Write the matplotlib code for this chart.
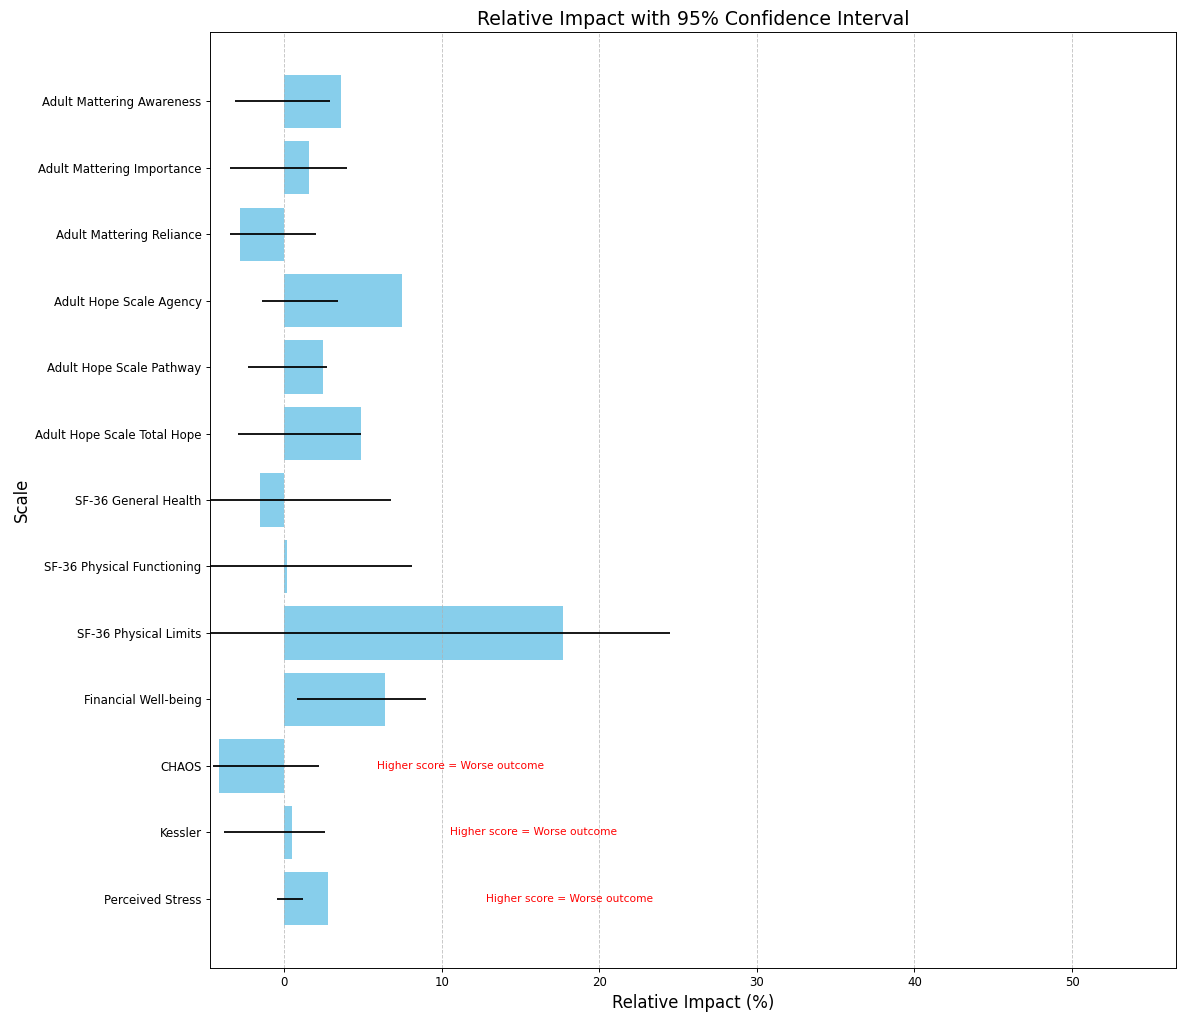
import matplotlib.pyplot as plt

# Scales, relative impact (%) and 95% CI bounds
scales = [
    'Adult Mattering Awareness', 'Adult Mattering Importance', 'Adult Mattering Reliance',
    'Adult Hope Scale Agency', 'Adult Hope Scale Pathway', 'Adult Hope Scale Total Hope',
    'SF-36 General Health', 'SF-36 Physical Functioning', 'SF-36 Physical Limits',
    'Financial Well-being', 'CHAOS', 'Kessler', 'Perceived Stress',
]
impact = [3.6, 1.6, -2.8, 7.5, 2.5, 4.9, -1.5, 0.2, 17.7, 6.4, -4.1, 0.5, 2.8]
ci_low = [-3.1, -3.4, -3.4, -1.4, -2.3, -2.9, -8.0, -9.0, -12.0, 0.8, -4.5, -3.8, -0.45]
ci_high = [2.9, 4.0, 2.0, 3.4, 2.7, 4.9, 6.8, 8.15, 24.5, 9.0, 2.2, 2.6, 1.2]
worse_if_higher = ['CHAOS', 'Kessler', 'Perceived Stress']

fig, ax = plt.subplots(figsize=(1177 / 85, 1013 / 85), dpi=85)
fig.subplots_adjust(left=0.1784, right=0.9992, top=0.9684, bottom=0.0444)

ypos = list(range(len(scales)))
ax.barh(ypos, impact, color='skyblue', height=0.8)
ax.hlines(ypos, ci_low, ci_high, color='black', linewidth=1.5)

for y, name, val in zip(ypos, scales, impact):
    if name in worse_if_higher:
        ax.text(val + 10, y, 'Higher score = Worse outcome', color='red',
                fontsize=9, va='center', ha='left')

ax.set_yticks(ypos)
ax.set_yticklabels(scales)
ax.invert_yaxis()
ax.set_xlim(-4.7, 56.6)

ax.set_title('Relative Impact with 95% Confidence Interval', fontsize=16)
ax.set_xlabel('Relative Impact (%)', fontsize=14)
ax.set_ylabel('Scale', fontsize=14)
ax.grid(axis='x', linestyle='--', alpha=0.7)

plt.savefig('out.png', dpi=85)
